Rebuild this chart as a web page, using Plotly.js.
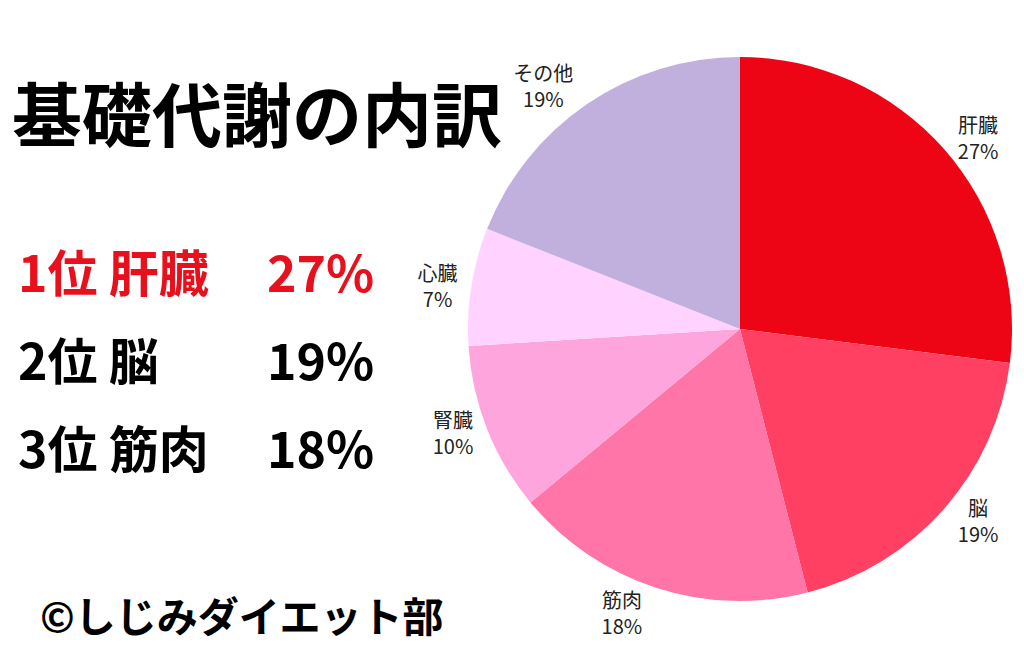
<!DOCTYPE html>
<html><head><meta charset="utf-8">
<script src="https://cdn.plot.ly/plotly-3.0.1.min.js"></script>
<style>html,body{margin:0;padding:0;background:#fff;}#chart{width:1024px;height:659px;}</style>
</head><body><div id="chart"></div>
<script>
const organs = ["肝臓", "脳", "筋肉", "腎臓", "心臓", "その他"];
const shares = [27, 19, 18, 10, 7, 19];
const sliceColors = ["#EE0515", "#FF4062", "#FF75A8", "#FFA5DD", "#FFD2FF", "#C1B0DE"];
const chartTitle = "基礎代謝の内訳";
const rankLabels = ["1位 肝臓", "2位 脳", "3位 筋肉"];
const rankValues = ["27%", "19%", "18%"];
const credit = "©しじみダイエット部";

const JP = '"Noto Sans CJK JP", "Noto Sans", sans-serif';
const W = 1024, H = 659;
const px = x => x / W;
const py = y => 1 - y / H;

const annotations = [];
annotations.push({text: "<b>" + chartTitle + "</b>", x: px(10), y: py(111), xref: "paper", yref: "paper",
  xanchor: "left", yanchor: "middle", showarrow: false, font: {family: JP, size: 70, color: "#000"}});
const rowY = [270, 358, 446];
rankLabels.forEach((t, i) => {
  const col = i === 0 ? "#E8101C" : "#000";
  annotations.push({text: "<b>" + t + "</b>", x: px(16), y: py(rowY[i]), xref: "paper", yref: "paper",
    xanchor: "left", yanchor: "middle", showarrow: false, font: {family: JP, size: 50, color: col}});
  annotations.push({text: "<b>" + rankValues[i] + "</b>", x: px(376), y: py(rowY[i]), xref: "paper", yref: "paper",
    xanchor: "right", yanchor: "middle", showarrow: false, font: {family: JP, size: 50, color: col}});
});
annotations.push({text: "<b>" + credit + "</b>", x: px(38), y: py(614), xref: "paper", yref: "paper",
  xanchor: "left", yanchor: "middle", showarrow: false, font: {family: JP, size: 41, color: "#000"}});

const data = [{
  type: "pie",
  labels: organs,
  values: shares,
  sort: false,
  direction: "clockwise",
  rotation: 0,
  marker: {colors: sliceColors, line: {width: 0}},
  textposition: "outside",
  texttemplate: "%{label}<br>%{percent:.0%}",
  textfont: {family: JP, size: 20, color: "#222"},
  hoverinfo: "none",
  showlegend: false,
  domain: {x: [468 / W, 1012 / W], y: [1 - 601 / H, 1 - 57 / H]}
}];

const layout = {
  width: W, height: H,
  margin: {l: 0, r: 0, t: 0, b: 0},
  paper_bgcolor: "#fff",
  showlegend: false,
  annotations: annotations
};
Plotly.newPlot("chart", data, layout, {displayModeBar: false, staticPlot: true});
</script></body></html>
